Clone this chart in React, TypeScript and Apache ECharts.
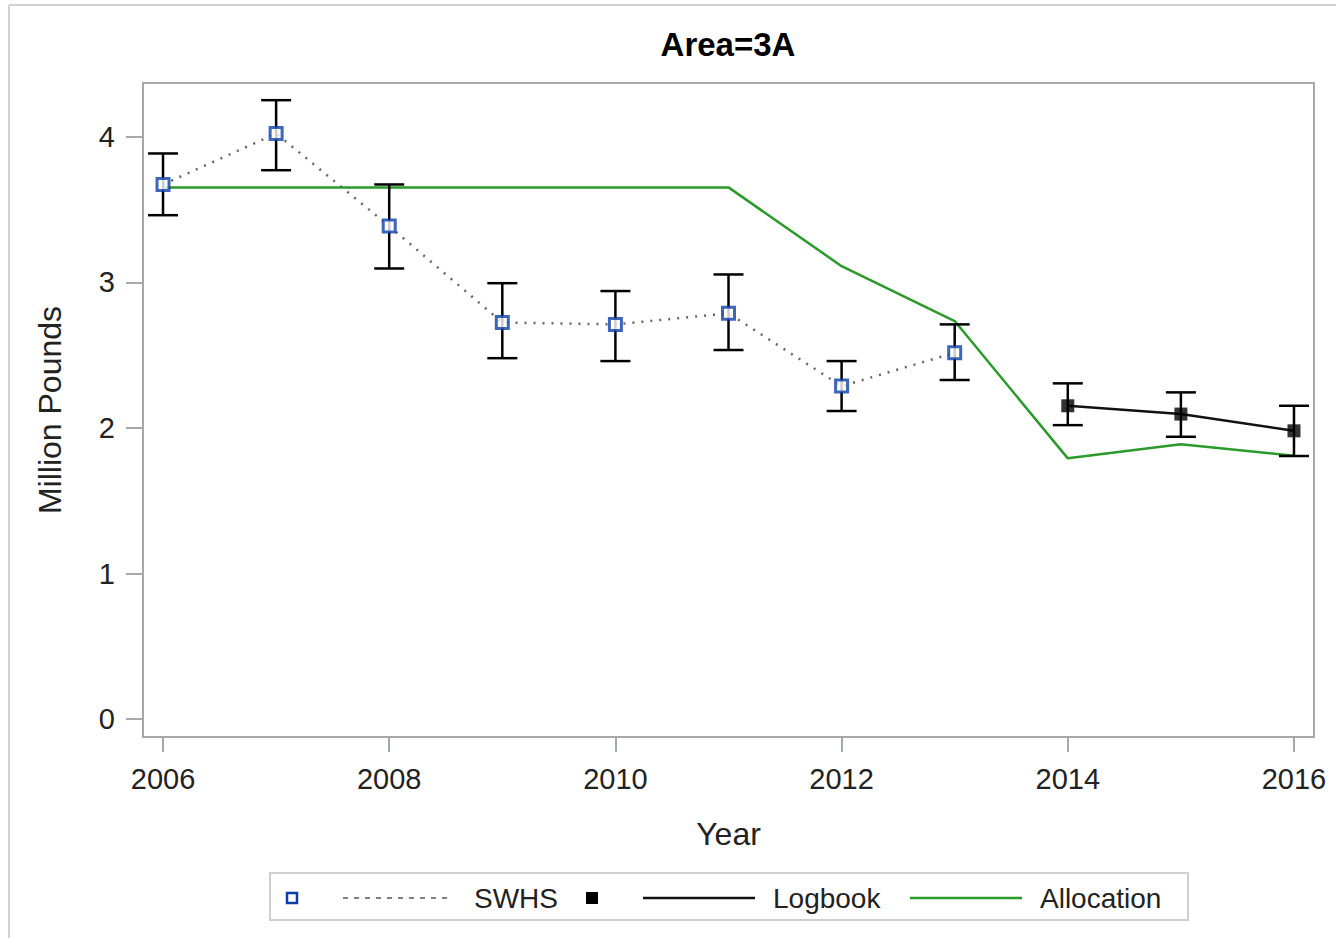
import React, { useEffect, useRef } from "react";
import * as echarts from "echarts";

const years = [2006, 2007, 2008, 2009, 2010, 2011, 2012, 2013];
const swhsEst = [3.673, 4.023, 3.387, 2.725, 2.712, 2.788, 2.288, 2.517];
const swhsLow = [3.462, 3.771, 3.096, 2.48, 2.46, 2.536, 2.117, 2.33];
const swhsHigh = [3.886, 4.252, 3.673, 2.995, 2.941, 3.055, 2.46, 2.712];

const logYears = [2014, 2015, 2016];
const logEst = [2.153, 2.096, 1.981];
const logLow = [2.02, 1.94, 1.808];
const logHigh = [2.307, 2.245, 2.153];

const allocYears = [2006, 2007, 2008, 2009, 2010, 2011, 2012, 2013, 2014, 2015, 2016];
const allocVals = [3.653, 3.653, 3.653, 3.653, 3.653, 3.653, 3.112, 2.735, 1.792, 1.888, 1.81];

const xTicks = [2006, 2008, 2010, 2012, 2014, 2016];
const yTicks = [0, 1, 2, 3, 4];

const FONT = "'Liberation Sans', Arial, sans-serif";
const BLUE = "#0d3fa6";
const GREEN = "#2a9a2a";
const FRAME = "#a4a9ae";

export default function App() {
  const ref = useRef<HTMLDivElement>(null);
  useEffect(() => {
    if (!ref.current) return;
    const chart = echarts.init(ref.current, null, { renderer: "svg" });

    const errData = [
      ...years.map((y, i) => [y, swhsLow[i], swhsHigh[i]]),
      ...logYears.map((y, i) => [y, logLow[i], logHigh[i]]),
    ];

    const legendY = 898;
    chart.setOption({
      animation: false,
      backgroundColor: "#fff",
      grid: {
        left: 143,
        top: 83,
        right: 22,
        bottom: 201,
        show: true,
        borderColor: FRAME,
        borderWidth: 2,
        backgroundColor: "#fff",
      },
      xAxis: {
        type: "value",
        min: 2005.823,
        max: 2016.177,
        name: "Year",
        nameLocation: "middle",
        nameGap: 81,
        nameTextStyle: { fontFamily: FONT, fontSize: 32, color: "#222" },
        axisLine: { show: false, onZero: false },
        splitLine: { show: false },
        axisTick: { show: true, length: 15, customValues: xTicks, lineStyle: { color: FRAME, width: 2 } },
        axisLabel: {
          customValues: xTicks,
          margin: 27,
          fontFamily: FONT,
          fontSize: 29,
          color: "#222",
          formatter: (v: number) => String(v),
        },
      },
      yAxis: {
        type: "value",
        min: -0.122,
        max: 4.37,
        name: "Million Pounds",
        nameLocation: "middle",
        nameGap: 77,
        nameTextStyle: { fontFamily: FONT, fontSize: 32, color: "#222" },
        axisLine: { show: false, onZero: false },
        splitLine: { show: false },
        axisTick: { show: true, length: 17, customValues: yTicks, lineStyle: { color: FRAME, width: 2 } },
        axisLabel: {
          customValues: yTicks,
          margin: 28,
          fontFamily: FONT,
          fontSize: 29,
          color: "#222",
          formatter: (v: number) => String(v),
        },
      },
      series: [
        {
          name: "Allocation",
          type: "line",
          data: allocYears.map((y, i) => [y, allocVals[i]]),
          showSymbol: false,
          symbol: "none",
          lineStyle: { color: GREEN, width: 2.5 },
          z: 2,
        },
        {
          name: "SWHS",
          type: "line",
          data: years.map((y, i) => [y, swhsEst[i]]),
          showSymbol: false,
          symbol: "none",
          lineStyle: { color: "#666", width: 2.5, type: [2, 7] },
          z: 3,
        },
        {
          name: "Logbook",
          type: "line",
          data: logYears.map((y, i) => [y, logEst[i]]),
          showSymbol: false,
          symbol: "none",
          lineStyle: { color: "#111", width: 2.5 },
          z: 3,
        },
        {
          name: "err",
          type: "custom",
          data: errData,
          z: 4,
          renderItem: (params: any, api: any) => {
            const x = api.value(0);
            const lo = api.coord([x, api.value(1)]);
            const hi = api.coord([x, api.value(2)]);
            const hw = 15;
            const st = { stroke: "#000", lineWidth: 2.5 };
            return {
              type: "group",
              children: [
                { type: "line", shape: { x1: lo[0], y1: lo[1], x2: hi[0], y2: hi[1] }, style: st },
                { type: "line", shape: { x1: lo[0] - hw, y1: lo[1], x2: lo[0] + hw, y2: lo[1] }, style: st },
                { type: "line", shape: { x1: hi[0] - hw, y1: hi[1], x2: hi[0] + hw, y2: hi[1] }, style: st },
              ],
            };
          },
        },
        {
          name: "SWHS pts",
          type: "scatter",
          data: years.map((y, i) => [y, swhsEst[i]]),
          symbol: "rect",
          symbolSize: 12,
          itemStyle: { color: "#fff", borderColor: BLUE, borderWidth: 3 },
          z: 5,
        },
        {
          name: "Logbook pts",
          type: "scatter",
          data: logYears.map((y, i) => [y, logEst[i]]),
          symbol: "rect",
          symbolSize: 13,
          itemStyle: { color: "#000" },
          z: 5,
        },
      ],
      graphic: [
        { type: "line", shape: { x1: 9, y1: 5, x2: 1336, y2: 5 }, style: { stroke: "#d2d2d2", lineWidth: 2 } },
        { type: "line", shape: { x1: 9, y1: 5, x2: 9, y2: 938 }, style: { stroke: "#d2d2d2", lineWidth: 2 } },
        {
          type: "text",
          x: 728,
          y: 44,
          style: {
            text: "Area=3A",
            fontFamily: FONT,
            fontSize: 33,
            fontWeight: "bold",
            fill: "#000",
            textAlign: "center",
            textVerticalAlign: "middle",
          },
        },
        {
          type: "rect",
          shape: { x: 270, y: 873, width: 918, height: 47 },
          style: { fill: "#fff", stroke: "#cfcfcf", lineWidth: 2 },
        },
        {
          type: "rect",
          shape: { x: 287, y: legendY - 5, width: 10, height: 10 },
          style: { fill: "#fff", stroke: BLUE, lineWidth: 2.5 },
        },
        {
          type: "line",
          shape: { x1: 343, y1: legendY, x2: 452, y2: legendY },
          style: { stroke: "#808080", lineWidth: 2, lineDash: [5, 6] },
        },
        {
          type: "text",
          x: 474,
          y: legendY,
          style: { text: "SWHS", fontFamily: FONT, fontSize: 28, fill: "#222", textVerticalAlign: "middle" },
        },
        {
          type: "rect",
          shape: { x: 586, y: legendY - 6, width: 12, height: 12 },
          style: { fill: "#000" },
        },
        {
          type: "line",
          shape: { x1: 643, y1: legendY, x2: 755, y2: legendY },
          style: { stroke: "#111", lineWidth: 2.5 },
        },
        {
          type: "text",
          x: 773,
          y: legendY,
          style: { text: "Logbook", fontFamily: FONT, fontSize: 28, fill: "#222", textVerticalAlign: "middle" },
        },
        {
          type: "line",
          shape: { x1: 910, y1: legendY, x2: 1022, y2: legendY },
          style: { stroke: GREEN, lineWidth: 2.5 },
        },
        {
          type: "text",
          x: 1040,
          y: legendY,
          style: { text: "Allocation", fontFamily: FONT, fontSize: 28, fill: "#222", textVerticalAlign: "middle" },
        },
      ],
    });
    return () => chart.dispose();
  }, []);

  return (
    <div
      ref={ref}
      style={{ position: "fixed", left: 0, top: 0, width: 1336, height: 938, background: "#fff" }}
    />
  );
}
